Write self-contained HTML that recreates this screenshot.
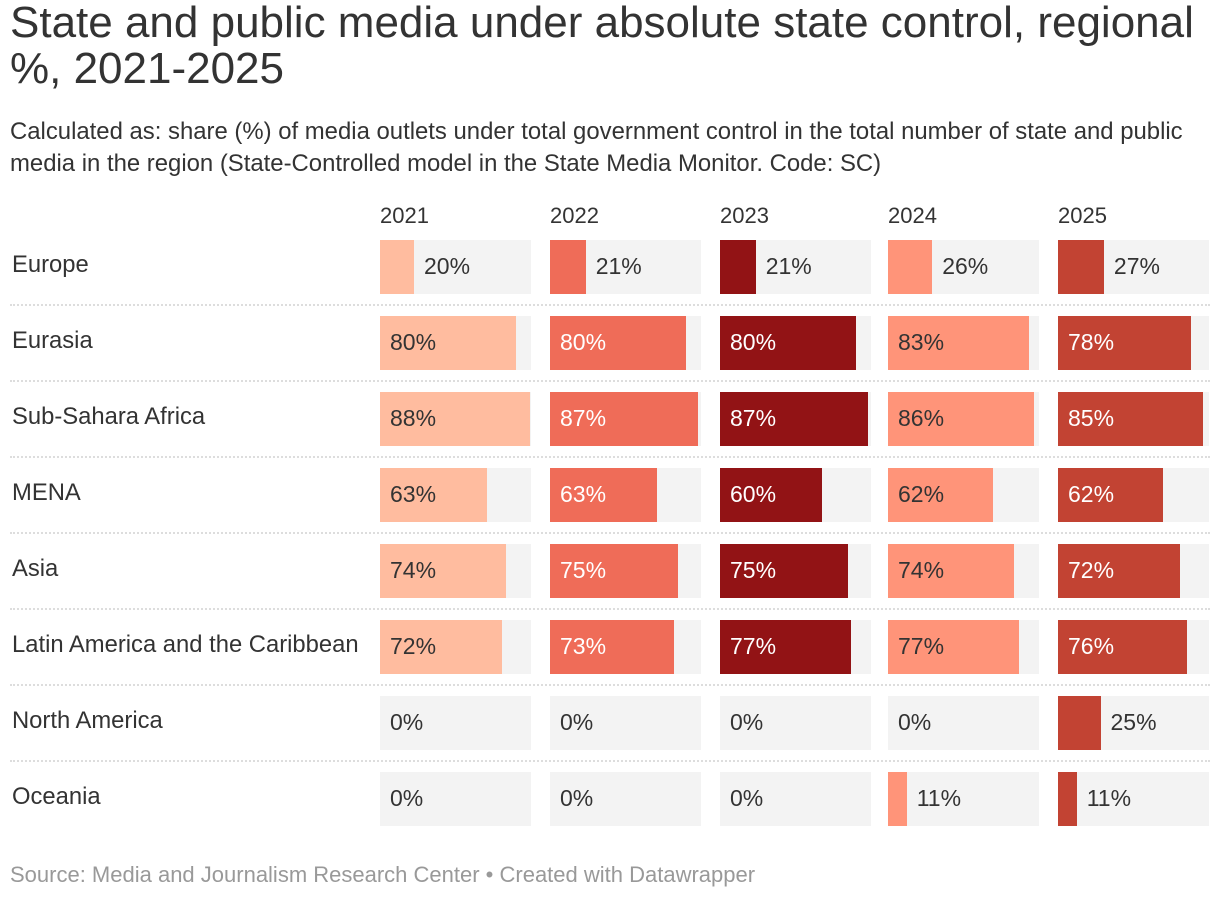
<!DOCTYPE html>
<html><head><meta charset="utf-8"><style>
body{margin:0;width:1220px;height:900px;background:#fff;font-family:"Liberation Sans",sans-serif;color:#333;position:relative;overflow:hidden}
.a{position:absolute;white-space:nowrap}
#title{left:10px;top:0px;font-size:44px;line-height:46px;color:#333}
#sub{left:10px;top:116px;font-size:23.9px;line-height:32px;color:#333}
.hdr{font-size:22px;top:203px}
.lbl{font-size:23.8px;left:12px}
.bg{background:#f3f3f3;height:54px}
.bar{height:54px}
.val{font-size:23px;line-height:52px}
.sep{left:10px;width:1200px;height:0;border-top:2px dotted #ddd}
#src{left:10px;top:862px;font-size:22px;color:#999}
</style></head><body>
<div class="a" id="title">State and public media under absolute state control, regional<br>%, 2021-2025</div>
<div class="a" id="sub">Calculated as: share (%) of media outlets under total government control in the total number of state and public<br>media in the region (State-Controlled model in the State Media Monitor. Code: SC)</div>
<div id="chart"></div>
<div class="a" id="src">Source: Media and Journalism Research Center • Created with Datawrapper</div>
<script>
const years=["2021","2022","2023","2024","2025"];
const regions=["Europe","Eurasia","Sub-Sahara Africa","MENA","Asia","Latin America and the Caribbean","North America","Oceania"];
const v2021=[20,80,88,63,74,72,0,0];
const v2022=[21,80,87,63,75,73,0,0];
const v2023=[21,80,87,60,75,77,0,0];
const v2024=[26,83,86,62,74,77,0,11];
const v2025=[27,78,85,62,72,76,25,11];
const series=[v2021,v2022,v2023,v2024,v2025];
const colors=["#ffbc9f","#ef6c58","#921315","#ff9479","#c24333"];
const textColors=["#333","#fff","#fff","#333","#fff"];
const colX=[380,550,720,888,1058], colW=151, maxV=88.8;
const rowY=r=>240+r*76;
const xw=v=>v/maxV*colW;
const c=document.getElementById('chart');
function mk(cls,style,txt){const d=document.createElement('div');d.className='a '+cls;Object.assign(d.style,style);if(txt!==undefined)d.textContent=txt;c.appendChild(d);return d;}
years.forEach((y,i)=>{const h=mk('hdr',{left:colX[i]+'px'},y);

});
regions.forEach((r,ri)=>{
 const top=rowY(ri);
 const l=mk('lbl',{top:(top+11)+'px'},r);
 
 
 if(ri>0){const s=mk('sep',{top:(top-12)+'px'});
 
 }
 series.forEach((vals,si)=>{
  const v=vals[ri];
  const bg=mk('bg',{left:colX[si]+'px',top:top+'px',width:colW+'px'});
  
  
  const w=xw(v);
  const b=mk('bar',{left:colX[si]+'px',top:top+'px',width:w+'px',background:colors[si]});
  
  
  const inside=v>=30;
  const t=mk('val',{left:(colX[si]+(inside?10:w+10))+'px',top:top+'px',color:inside?textColors[si]:'#333'},v+'%');
  
  
 });
});
</script>
</body></html>
